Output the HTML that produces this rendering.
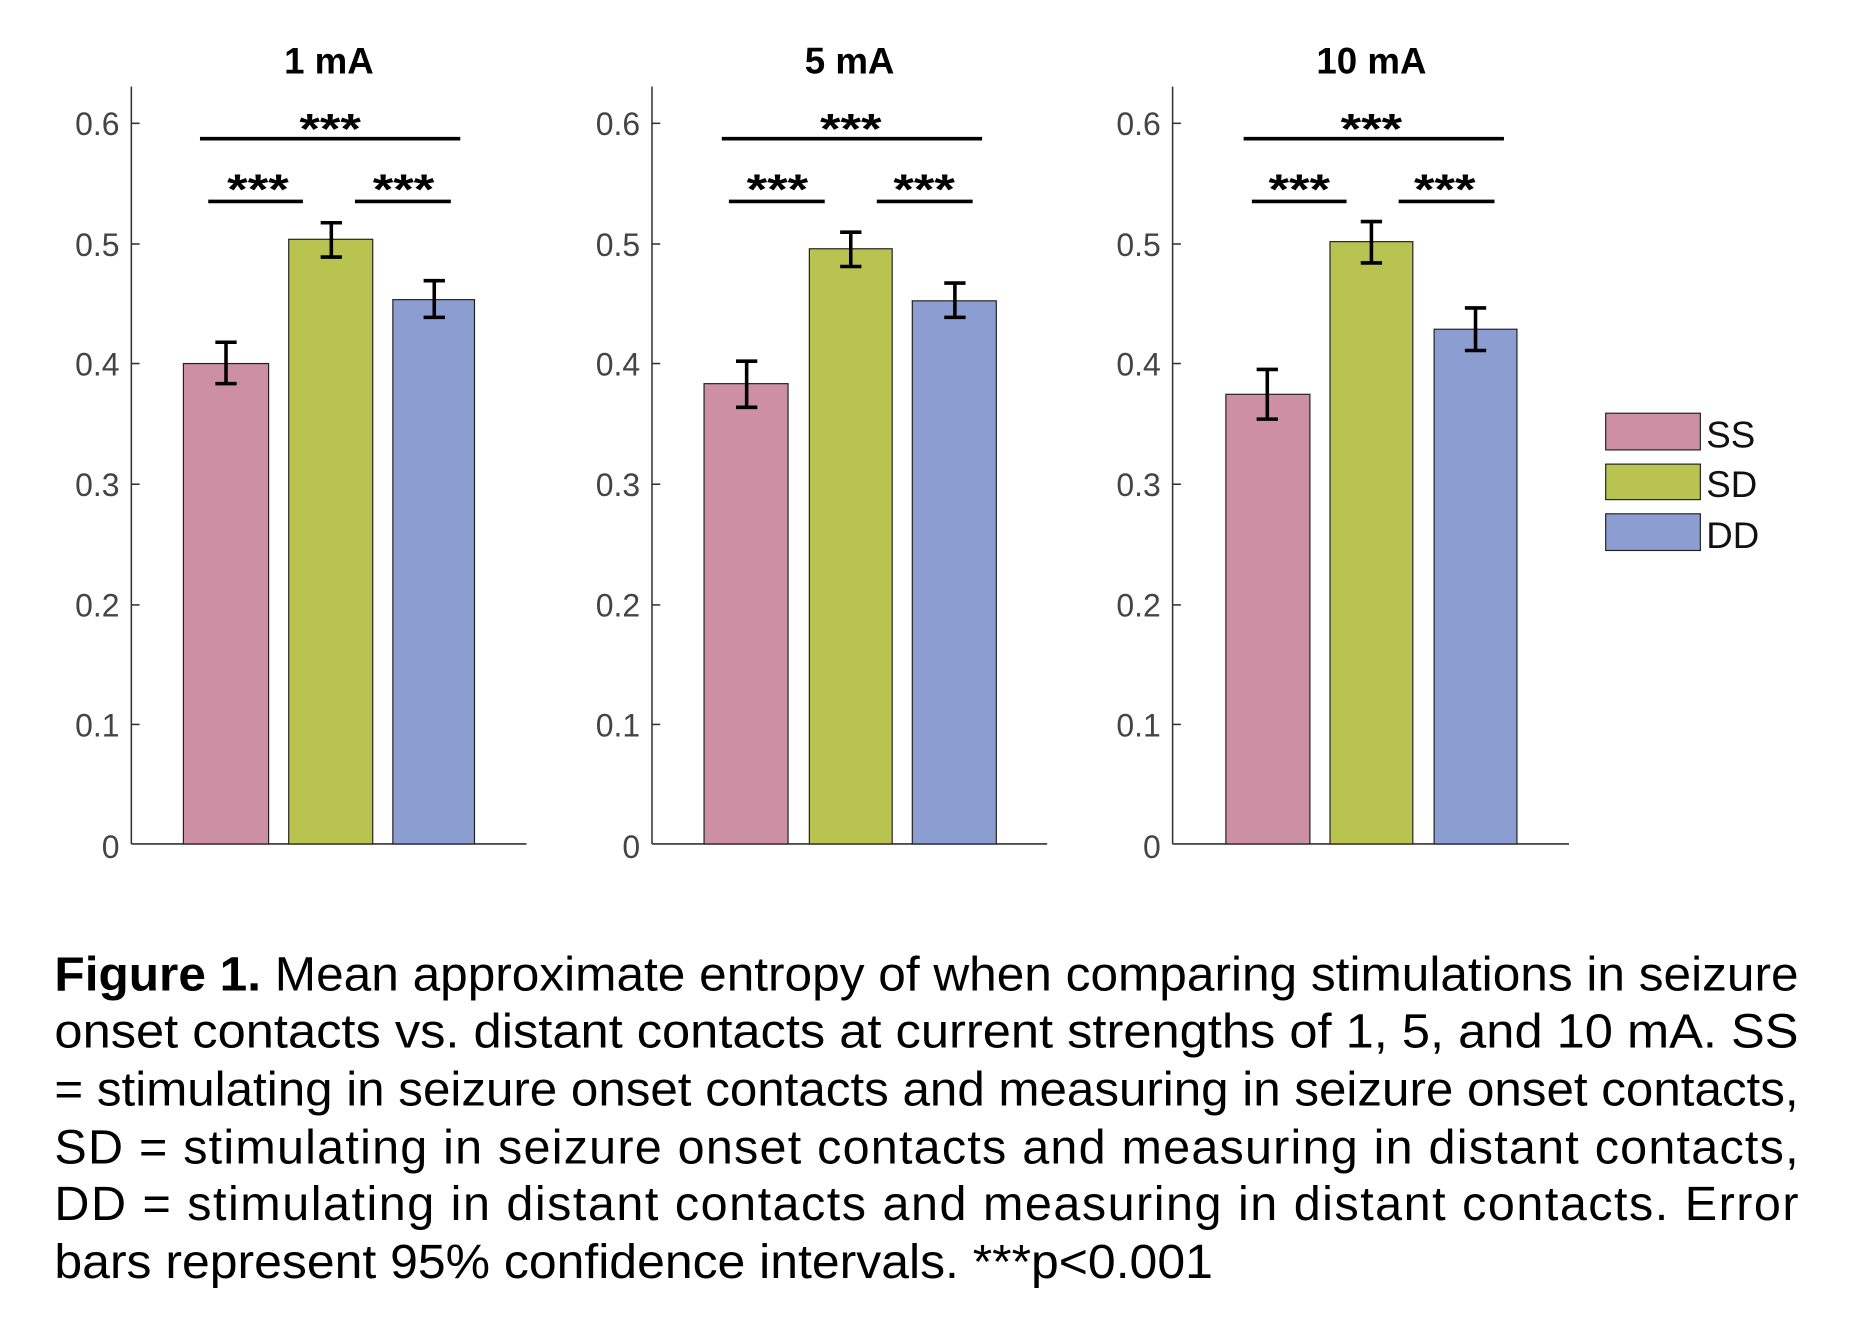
<!DOCTYPE html>
<html><head><meta charset="utf-8"><style>
html,body{margin:0;padding:0;background:#fff;width:1853px;height:1340px;overflow:hidden}
svg{display:block}
</style></head><body>
<svg width="1853" height="1340" viewBox="0 0 1566 1132" xmlns="http://www.w3.org/2000/svg" font-family="Liberation Sans, Arial, sans-serif">
<rect width="1566" height="1132" fill="#fff"/>
<g>
 <text x="278" y="62" font-size="31" font-weight="bold" text-anchor="middle">1 mA</text>
 <line x1="111" y1="73" x2="111" y2="713" stroke="#333" stroke-width="1.3"/>
 <line x1="111" y1="713" x2="445" y2="713" stroke="#333" stroke-width="1.3"/>
 <g stroke="#333" stroke-width="1.3">
  <line x1="111" y1="104" x2="118" y2="104"/><line x1="111" y1="206" x2="118" y2="206"/><line x1="111" y1="307" x2="118" y2="307"/><line x1="111" y1="409" x2="118" y2="409"/><line x1="111" y1="511" x2="118" y2="511"/><line x1="111" y1="612" x2="118" y2="612"/>
 </g>
 <g font-size="27" fill="#444" text-anchor="end">
  <text x="101" y="114">0.6</text><text x="101" y="216">0.5</text><text x="101" y="317">0.4</text><text x="101" y="419">0.3</text><text x="101" y="521">0.2</text><text x="101" y="622">0.1</text><text x="101" y="725">0</text>
 </g>
 <rect x="155" y="307" width="72" height="406" fill="#cc8fa3" stroke="#222" stroke-width="1"/>
 <rect x="244" y="202" width="71" height="511" fill="#b8c44f" stroke="#222" stroke-width="1"/>
 <rect x="332" y="253" width="69" height="460" fill="#8c9dd1" stroke="#222" stroke-width="1"/>
 <g stroke="#000" stroke-width="3">
  <path d="M191 289V324M182 289H200M182 324H200"/>
  <path d="M280 188V217M271 188H289M271 217H289"/>
  <path d="M367 237V268M358 237H376M358 268H376"/>
  <line x1="169" y1="117" x2="389" y2="117"/><line x1="176" y1="170" x2="256" y2="170"/><line x1="300" y1="170" x2="381" y2="170"/>
 </g>
 <g font-size="36" font-weight="bold" text-anchor="middle"><text x="279" y="121" textLength="52" lengthAdjust="spacingAndGlyphs">***</text><text x="218" y="172" textLength="52" lengthAdjust="spacingAndGlyphs">***</text><text x="341" y="172" textLength="52" lengthAdjust="spacingAndGlyphs">***</text></g>
</g>
<g>
 <text x="718" y="62" font-size="31" font-weight="bold" text-anchor="middle">5 mA</text>
 <line x1="551" y1="73" x2="551" y2="713" stroke="#333" stroke-width="1.3"/>
 <line x1="551" y1="713" x2="885" y2="713" stroke="#333" stroke-width="1.3"/>
 <g stroke="#333" stroke-width="1.3">
  <line x1="551" y1="104" x2="558" y2="104"/><line x1="551" y1="206" x2="558" y2="206"/><line x1="551" y1="307" x2="558" y2="307"/><line x1="551" y1="409" x2="558" y2="409"/><line x1="551" y1="511" x2="558" y2="511"/><line x1="551" y1="612" x2="558" y2="612"/>
 </g>
 <g font-size="27" fill="#444" text-anchor="end">
  <text x="541" y="114">0.6</text><text x="541" y="216">0.5</text><text x="541" y="317">0.4</text><text x="541" y="419">0.3</text><text x="541" y="521">0.2</text><text x="541" y="622">0.1</text><text x="541" y="725">0</text>
 </g>
 <rect x="595" y="324" width="71" height="389" fill="#cc8fa3" stroke="#222" stroke-width="1"/>
 <rect x="684" y="210" width="70" height="503" fill="#b8c44f" stroke="#222" stroke-width="1"/>
 <rect x="771" y="254" width="71" height="459" fill="#8c9dd1" stroke="#222" stroke-width="1"/>
 <g stroke="#000" stroke-width="3">
  <path d="M631 305V344M622 305H640M622 344H640"/>
  <path d="M719 196V225M710 196H728M710 225H728"/>
  <path d="M807 239V268M798 239H816M798 268H816"/>
  <line x1="610" y1="117" x2="830" y2="117"/><line x1="616" y1="170" x2="697" y2="170"/><line x1="741" y1="170" x2="822" y2="170"/>
 </g>
 <g font-size="36" font-weight="bold" text-anchor="middle"><text x="719" y="121" textLength="52" lengthAdjust="spacingAndGlyphs">***</text><text x="657" y="172" textLength="52" lengthAdjust="spacingAndGlyphs">***</text><text x="781" y="172" textLength="52" lengthAdjust="spacingAndGlyphs">***</text></g>
</g>
<g>
 <text x="1159" y="62" font-size="31" font-weight="bold" text-anchor="middle">10 mA</text>
 <line x1="991" y1="73" x2="991" y2="713" stroke="#333" stroke-width="1.3"/>
 <line x1="991" y1="713" x2="1326" y2="713" stroke="#333" stroke-width="1.3"/>
 <g stroke="#333" stroke-width="1.3">
  <line x1="991" y1="104" x2="998" y2="104"/><line x1="991" y1="206" x2="998" y2="206"/><line x1="991" y1="307" x2="998" y2="307"/><line x1="991" y1="409" x2="998" y2="409"/><line x1="991" y1="511" x2="998" y2="511"/><line x1="991" y1="612" x2="998" y2="612"/>
 </g>
 <g font-size="27" fill="#444" text-anchor="end">
  <text x="981" y="114">0.6</text><text x="981" y="216">0.5</text><text x="981" y="317">0.4</text><text x="981" y="419">0.3</text><text x="981" y="521">0.2</text><text x="981" y="622">0.1</text><text x="981" y="725">0</text>
 </g>
 <rect x="1036" y="333" width="71" height="380" fill="#cc8fa3" stroke="#222" stroke-width="1"/>
 <rect x="1124" y="204" width="70" height="509" fill="#b8c44f" stroke="#222" stroke-width="1"/>
 <rect x="1212" y="278" width="70" height="435" fill="#8c9dd1" stroke="#222" stroke-width="1"/>
 <g stroke="#000" stroke-width="3">
  <path d="M1071 312V354M1062 312H1080M1062 354H1080"/>
  <path d="M1159 187V222M1150 187H1168M1150 222H1168"/>
  <path d="M1247 260V296M1238 260H1256M1238 296H1256"/>
  <line x1="1051" y1="117" x2="1271" y2="117"/><line x1="1058" y1="170" x2="1138" y2="170"/><line x1="1182" y1="170" x2="1263" y2="170"/>
 </g>
 <g font-size="36" font-weight="bold" text-anchor="middle"><text x="1159" y="121" textLength="52" lengthAdjust="spacingAndGlyphs">***</text><text x="1098" y="172" textLength="52" lengthAdjust="spacingAndGlyphs">***</text><text x="1221" y="172" textLength="52" lengthAdjust="spacingAndGlyphs">***</text></g>
</g>
<g stroke="#222" stroke-width="1">
 <rect x="1357" y="349" width="80" height="31" fill="#cc8fa3"/>
 <rect x="1357" y="392" width="80" height="30" fill="#b8c44f"/>
 <rect x="1357" y="434" width="80" height="31" fill="#8c9dd1"/>
</g>
<g font-size="31" fill="#111"><text x="1442" y="378">SS</text><text x="1442" y="420">SD</text><text x="1442" y="463">DD</text></g>
<g font-size="41" fill="#000">
 <text x="46" y="837" textLength="1474" lengthAdjust="spacingAndGlyphs"><tspan font-weight="bold">Figure 1.</tspan> Mean approximate entropy of when comparing stimulations in seizure</text>
 <text x="46" y="885" textLength="1474" lengthAdjust="spacingAndGlyphs">onset contacts vs. distant contacts at current strengths of 1, 5, and 10 mA. SS</text>
 <text x="46" y="934" textLength="1474" lengthAdjust="spacingAndGlyphs">= stimulating in seizure onset contacts and measuring in seizure onset contacts,</text>
 <text x="46" y="983" textLength="1474" lengthAdjust="spacing">SD = stimulating in seizure onset contacts and measuring in distant contacts,</text>
 <text x="46" y="1031" textLength="1474" lengthAdjust="spacing">DD = stimulating in distant contacts and measuring in distant contacts. Error</text>
 <text x="46" y="1080" textLength="979" lengthAdjust="spacingAndGlyphs">bars represent 95% confidence intervals. ***p&lt;0.001</text>
</g>
</svg>
</body></html>
